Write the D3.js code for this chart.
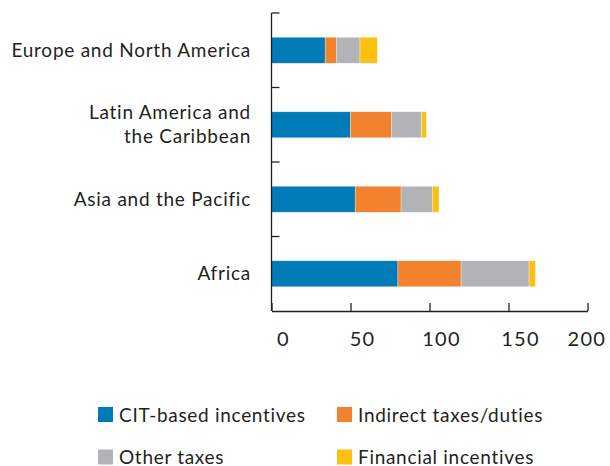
<!DOCTYPE html>
<html>
<head>
<meta charset="utf-8">
<script src="https://cdn.jsdelivr.net/npm/d3@7"></script>
<style>
  body { margin: 0; background: #fff; }
  text { font-family: Lato, "Open Sans", sans-serif; fill: #231f20; }
</style>
</head>
<body>
<svg id="chart" width="610" height="466"></svg>
<script>
var regions = ["Europe and North America", "Latin America and\nthe Caribbean", "Asia and the Pacific", "Africa"];
var citBased = [34, 50, 53, 80];
var indirectTaxes = [7, 26, 29, 40];
var otherTaxes = [15, 19, 20, 43];
var financialInc = [11, 3, 4, 4];
var seriesNames = ["CIT-based incentives", "Indirect taxes/duties", "Other taxes", "Financial incentives"];
var colors = ["#007bb8", "#f2822d", "#b2b3b6", "#fdc010"];
var xTicks = [0, 50, 100, 150, 200];

var width = 610;
var svg = d3.select("#chart");

// build rows for the stack
var rows = regions.map(function(r, i) {
    return { region: r, cit: citBased[i], ind: indirectTaxes[i], oth: otherTaxes[i], fin: financialInc[i] };
});
var keys = ["cit", "ind", "oth", "fin"];
var stacked = d3.stack().keys(keys)(rows);

var x = d3.scaleLinear().domain([0, 200]).range([271.5, 587.5]);
var y = d3.scaleBand().domain(regions).range([13, 311]);
var barH = 26;

// bars
svg.append("g").selectAll("g")
    .data(stacked)
    .join("g")
    .attr("fill", function(d, i) { return colors[i]; })
    .selectAll("rect")
    .data(function(d) { return d; })
    .join("rect")
    .attr("x", function(d) { return x(d[0]); })
    .attr("width", function(d) { return x(d[1]) - x(d[0]); })
    .attr("y", function(d) { return y(d.data.region) + y.bandwidth() / 2 - barH / 2; })
    .attr("height", barH)
    .attr("stroke", "#fff")
    .attr("stroke-opacity", 0.5)
    .attr("stroke-width", 0.6);

// y axis: line with ticks on band boundaries
var yAxis = svg.append("g");
yAxis.append("line")
    .attr("x1", x(0)).attr("x2", x(0))
    .attr("y1", 13).attr("y2", 311)
    .attr("stroke", "#231f20").attr("stroke-width", 1.3);
var bounds = regions.map(function(r) { return y(r); });
yAxis.selectAll(".yt")
    .data(bounds)
    .join("line")
    .attr("class", "yt")
    .attr("x1", x(0)).attr("x2", x(0) + 8)
    .attr("y1", function(d) { return d; }).attr("y2", function(d) { return d; })
    .attr("stroke", "#231f20").attr("stroke-width", 1.3);

// category labels
svg.append("g").selectAll("text")
    .data(regions)
    .join("text")
    .attr("text-anchor", "end")
    .attr("font-size", 19)
    .attr("letter-spacing", 0.75)
    .each(function(d) {
        var lines = d.split("\n");
        var t = d3.select(this);
        var cy = y(d) + y.bandwidth() / 2;
        var start = cy + 6.5 - (lines.length - 1) * 12;
        lines.forEach(function(l, k) {
            t.append("tspan").attr("x", 251).attr("y", start + k * 24).text(l);
        });
    });

// x axis
var xAxis = d3.axisBottom(x).tickValues(xTicks).tickSize(-8).tickSizeOuter(0).tickPadding(21);
var gx = svg.append("g").attr("transform", "translate(0,311)").call(xAxis);
gx.select(".domain").attr("stroke", "#231f20").attr("stroke-width", 1.3);
gx.selectAll(".tick line").attr("stroke", "#231f20").attr("stroke-width", 1.3);
gx.selectAll(".tick text")
    .attr("font-size", 20)
    .attr("font-family", "Lato, sans-serif")
    .attr("letter-spacing", 1.2)
    .attr("fill", "#231f20")
    .attr("dx", 11.5)
    .attr("dy", "0.71em");

// keep the last label inside the picture
gx.selectAll(".tick text").each(function() {
    var bb = this.getBBox();
    var tr = this.parentNode.getAttribute("transform");
    var tx = +tr.match(/translate\(([-\d.]+)/)[1];
    var right = tx + bb.x + bb.width;
    if (right > width - 4) {
        d3.select(this).attr("dx", 11.5 - (right - (width - 4)));
    }
});

// legend
var legPos = [[98, 407], [337, 407], [98, 449.5], [337, 449.5]];
var leg = svg.append("g").selectAll("g")
    .data(seriesNames)
    .join("g")
    .attr("transform", function(d, i) { return "translate(" + legPos[i][0] + "," + legPos[i][1] + ")"; });
leg.append("rect")
    .attr("width", 15).attr("height", 15)
    .attr("fill", function(d, i) { return colors[i]; });
leg.append("text")
    .attr("x", 21).attr("y", 14.5)
    .attr("font-size", 19)
    .attr("letter-spacing", 0.7)
    .text(function(d) { return d; });
</script>
</body>
</html>
